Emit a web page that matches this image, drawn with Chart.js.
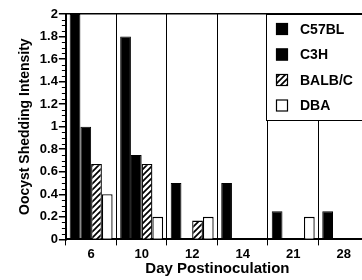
<!DOCTYPE html>
<html>
<head>
<meta charset="utf-8">
<script src="https://cdn.jsdelivr.net/npm/chart.js@4/dist/chart.umd.min.js"></script>
<style>
html,body{margin:0;padding:0;background:#fff;overflow:hidden;width:362px;height:280px;}
canvas{display:block;}
</style>
</head>
<body>
<canvas id="c" width="372" height="280"></canvas>
<script>
const categories = ['6', '10', '12', '14', '21', '28'];
const seriesNames = ['C57BL', 'C3H', 'BALB/C', 'DBA'];
const c57bl = [2.0, 1.8, 0.5, 0.5, 0.25, 0.25];
const c3h   = [1.0, 0.75, 0, 0, 0, 0];
const balbc = [0.67, 0.67, 0.167, 0, 0, 0];
const dba   = [0.4, 0.2, 0.2, 0, 0.2, 0];
const yTicks = [0, 0.2, 0.4, 0.6, 0.8, 1, 1.2, 1.4, 1.6, 1.8, 2];

const FONT = "'Liberation Sans', Arial, Helvetica, sans-serif";

function hatch() {
  const s = 6;
  const p = document.createElement('canvas');
  p.width = s; p.height = s;
  const g = p.getContext('2d');
  g.fillStyle = '#fff';
  g.fillRect(0, 0, s, s);
  g.strokeStyle = '#000';
  g.lineWidth = 1.7;
  g.beginPath();
  g.moveTo(-1, s + 1); g.lineTo(s + 1, -1);
  g.moveTo(-1, 1); g.lineTo(1, -1);
  g.moveTo(s - 1, s + 1); g.lineTo(s + 1, s - 1);
  g.stroke();
  return g.createPattern(p, 'repeat');
}
const hatchPattern = hatch();

const minorTicks = {
  id: 'minorTicks',
  afterDraw(chart) {
    const y = chart.scales.y;
    const ctx = chart.ctx;
    ctx.save();
    ctx.strokeStyle = '#000';
    ctx.lineWidth = 1;
    ctx.beginPath();
    for (let i = 0; i <= 40; i++) {
      if (i % 4 === 0) continue;
      const py = Math.round(y.getPixelForValue(i / 20)) + 0.5;
      ctx.moveTo(y.right - 4, py);
      ctx.lineTo(y.right, py);
    }
    ctx.stroke();
    ctx.restore();
  }
};

const boxLegend = {
  id: 'boxLegend',
  afterDraw(chart) {
    const a = chart.chartArea;
    const ctx = chart.ctx;
    const left = a.right - 103;
    const top = a.top;
    const h = 106;
    ctx.save();
    ctx.fillStyle = '#fff';
    ctx.fillRect(left, top, a.right - left + 10, h);
    ctx.strokeStyle = '#000';
    ctx.lineWidth = 1;
    ctx.strokeRect(left + 0.5, top + 0.5, a.right - left + 10, h);
    ctx.font = 'bold 14px ' + FONT;
    ctx.textBaseline = 'middle';
    chart.data.datasets.forEach((ds, i) => {
      const cy = top + 15 + i * 25.5;
      ctx.fillStyle = ds.backgroundColor;
      ctx.fillRect(left + 10, cy - 6, 12, 12);
      ctx.strokeStyle = '#000';
      ctx.lineWidth = 1.2;
      ctx.strokeRect(left + 10.5, cy - 5.5, 11, 11);
      ctx.fillStyle = '#000';
      ctx.fillText(ds.label, left + 34, cy + 1);
    });
    ctx.restore();
  }
};

new Chart(document.getElementById('c'), {
  type: 'bar',
  data: {
    labels: categories,
    datasets: [
      {label: seriesNames[0], data: c57bl, backgroundColor: '#000', borderColor: '#000', borderWidth: 1},
      {label: seriesNames[1], data: c3h, backgroundColor: '#000', borderColor: '#000', borderWidth: 1},
      {label: seriesNames[2], data: balbc, backgroundColor: hatchPattern, borderColor: '#000', borderWidth: 1.3},
      {label: seriesNames[3], data: dba, backgroundColor: '#fff', borderColor: '#000', borderWidth: 1.3}
    ]
  },
  options: {
    responsive: false,
    animation: false,
    devicePixelRatio: 1,
    categoryPercentage: 0.85,
    barPercentage: 1.0,
    layout: {padding: {left: 17, right: 3, top: 14, bottom: 2}},
    plugins: {legend: {display: false}, tooltip: {enabled: false}},
    scales: {
      x: {
        grid: {color: '#000', lineWidth: 1, tickLength: 6, offset: true, drawOnChartArea: true},
        border: {color: '#000', width: 2},
        ticks: {color: '#000', font: {family: FONT, size: 13, weight: 'bold'}, padding: 1},
        title: {display: true, text: 'Day Postinoculation', color: '#000', font: {family: FONT, size: 15, weight: 'bold'}, padding: {top: -3, bottom: 0}}
      },
      y: {
        min: 0, max: 2,
        afterBuildTicks: (s) => { s.ticks = yTicks.map(v => ({value: v})); },
        ticks: {color: '#000', font: {family: FONT, size: 13, weight: 'bold'}, padding: 1, autoSkip: false,
                callback: (v) => String(Math.round(v * 10) / 10)},
        grid: {
          color: (ctx) => (ctx.tick && ctx.tick.value === 2 ? '#000' : 'rgba(0,0,0,0)'),
          tickColor: '#000', tickLength: 7, lineWidth: 1.5
        },
        border: {color: '#000', width: 2},
        title: {display: true, text: 'Oocyst Shedding Intensity', color: '#000', font: {family: FONT, size: 14, weight: 'bold'}, padding: {top: 0, bottom: 5}}
      }
    }
  },
  plugins: [minorTicks, boxLegend]
});
</script>
</body>
</html>
